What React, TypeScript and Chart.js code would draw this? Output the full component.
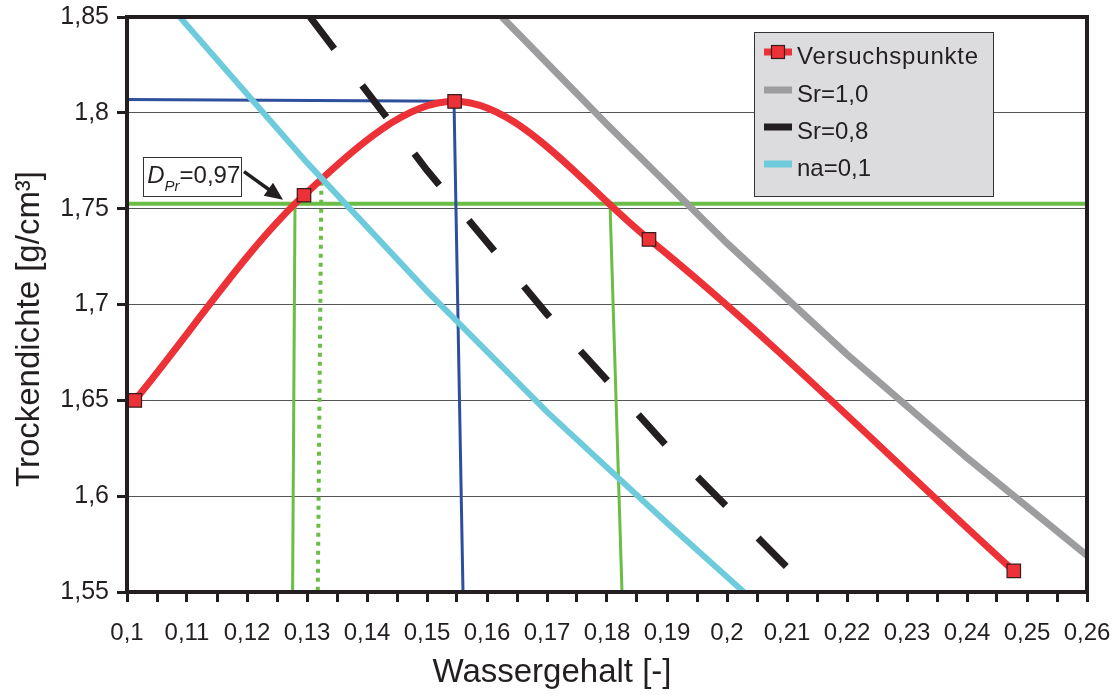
import React, { useEffect, useRef } from "react";
import { Chart, registerables } from "chart.js";

Chart.register(...registerables);

// ---- axis ranges ----
const xMin = 0.1;
const xMax = 0.26;
const xStep = 0.005;
const yMin = 1.55;
const yMax = 1.85;
const yStep = 0.05;

// ---- Versuchspunkte (test points) ----
const testW = [0.1013, 0.1295, 0.1546, 0.187, 0.2478];
const testRho = [1.65, 1.757, 1.806, 1.734, 1.561];

// ---- Sr = 1,0 ----
const sr10W = [0.1625, 0.18, 0.2, 0.22, 0.24, 0.26];
const sr10Rho = [1.85, 1.794, 1.732, 1.674, 1.62, 1.569];

// ---- Sr = 0,8 ----
const sr08W = [0.1305, 0.15, 0.17, 0.19, 0.2122];
const sr08Rho = [1.85, 1.77, 1.695, 1.626, 1.556];

// ---- na = 0,1 ----
const na01W = [0.1088, 0.13, 0.15, 0.17, 0.19, 0.2028];
const na01Rho = [1.85, 1.774, 1.707, 1.644, 1.586, 1.55];

// ---- Proctor optimum (blue) ----
const optW = [0.1, 0.1545, 0.156];
const optRho = [1.807, 1.806, 1.55];

// ---- D_Pr = 0,97 level (green) ----
const levelW = [0.1, 0.26];
const levelRho = [1.7526, 1.7526];
const leftW = [0.128, 0.1276];
const leftRho = [1.7526, 1.55];
const dotW = [0.1324, 0.1318];
const dotRho = [1.764, 1.55];
const rightW = [0.1805, 0.1825];
const rightRho = [1.7526, 1.55];

// ---- annotation anchor (data coords) ----
const boxLeftW = 0.1027;
const boxRightW = 0.119;
const boxTopRho = 1.7771;
const boxBottomRho = 1.7568;
const arrowFrom = [0.1195, 1.7693];
const arrowTo = [0.126, 1.7547];
const dprValue = "=0,97";

// ---- legend ----
const legendLabels = ["Versuchspunkte", "Sr=1,0", "Sr=0,8", "na=0,1"];

const RED = "#ec3237";
const GRAY = "#9d9d9f";
const BLACK = "#231f20";
const CYAN = "#6dcbdc";
const BLUE = "#2e4f9e";
const GREEN = "#6abd45";
const FONT = "'Liberation Sans', Arial, sans-serif";

const pts = (xs: number[], ys: number[]) => xs.map((x, i) => ({ x, y: ys[i] }));
const fmt = (v: number, d: number) => String(Math.round(v * Math.pow(10, d)) / Math.pow(10, d)).replace(".", ",");

const overlay = {
  id: "overlay",
  afterDraw(chart: any) {
    const ctx = chart.ctx as CanvasRenderingContext2D;
    const xs = chart.scales.x;
    const ys = chart.scales.y;
    const a = chart.chartArea;
    ctx.save();

    // border
    ctx.strokeStyle = BLACK;
    ctx.lineWidth = 4;
    ctx.strokeRect(a.left, a.top, a.right - a.left, a.bottom - a.top);

    // annotation box
    const bl = xs.getPixelForValue(boxLeftW);
    const br = xs.getPixelForValue(boxRightW);
    const bt = ys.getPixelForValue(boxTopRho);
    const bb = ys.getPixelForValue(boxBottomRho);
    ctx.fillStyle = "#ffffff";
    ctx.fillRect(bl, bt, br - bl, bb - bt);
    ctx.strokeStyle = "#333333";
    ctx.lineWidth = 1;
    ctx.strokeRect(Math.round(bl) + 0.5, Math.round(bt) + 0.5, Math.round(br - bl), Math.round(bb - bt));
    ctx.fillStyle = BLACK;
    ctx.textBaseline = "alphabetic";
    ctx.textAlign = "left";
    const base = bt + 26;
    let tx = bl + 4;
    ctx.font = `italic 24px ${FONT}`;
    ctx.fillText("D", tx, base);
    tx += ctx.measureText("D").width;
    ctx.font = `italic 15px ${FONT}`;
    ctx.fillText("Pr", tx, base + 8);
    tx += ctx.measureText("Pr").width;
    ctx.font = `24px ${FONT}`;
    ctx.fillText(dprValue, tx, base);

    // arrow
    const ax0 = xs.getPixelForValue(arrowFrom[0]);
    const ay0 = ys.getPixelForValue(arrowFrom[1]);
    const ax1 = xs.getPixelForValue(arrowTo[0]);
    const ay1 = ys.getPixelForValue(arrowTo[1]);
    const ang = Math.atan2(ay1 - ay0, ax1 - ax0);
    const hl = 18;
    const hw = 8;
    ctx.strokeStyle = BLACK;
    ctx.fillStyle = BLACK;
    ctx.lineWidth = 3.5;
    ctx.beginPath();
    ctx.moveTo(ax0, ay0);
    ctx.lineTo(ax1 - Math.cos(ang) * hl * 0.8, ay1 - Math.sin(ang) * hl * 0.8);
    ctx.stroke();
    ctx.beginPath();
    ctx.moveTo(ax1, ay1);
    ctx.lineTo(ax1 - Math.cos(ang) * hl - Math.sin(ang) * hw, ay1 - Math.sin(ang) * hl + Math.cos(ang) * hw);
    ctx.lineTo(ax1 - Math.cos(ang) * hl + Math.sin(ang) * hw, ay1 - Math.sin(ang) * hl - Math.cos(ang) * hw);
    ctx.closePath();
    ctx.fill();

    // legend
    const lx = 754;
    const ly = 32;
    const lw = 239;
    const lh = 164;
    ctx.fillStyle = "#dcdcde";
    ctx.fillRect(lx, ly, lw, lh);
    ctx.strokeStyle = "#333333";
    ctx.lineWidth = 1;
    ctx.strokeRect(lx + 0.5, ly + 0.5, lw, lh);
    const rows = [52, 90, 127, 164];
    const cols = [RED, GRAY, BLACK, CYAN];
    legendLabels.forEach((lab, i) => {
      const y = rows[i];
      ctx.fillStyle = cols[i];
      ctx.fillRect(764, y - 3.5, 28, 7);
      if (i === 0) {
        ctx.fillStyle = RED;
        ctx.fillRect(771.5, y - 6.5, 13, 13);
        ctx.strokeStyle = "#3a1a1a";
        ctx.lineWidth = 1.2;
        ctx.strokeRect(771.5, y - 6.5, 13, 13);
      }
      ctx.fillStyle = BLACK;
      ctx.font = `24px ${FONT}`;
      ctx.textBaseline = "middle";
      (ctx as any).letterSpacing = i === 0 ? "0.8px" : "0px";
      ctx.fillText(lab, 797, y + 5);
    });
    (ctx as any).letterSpacing = "0px";

    // axis titles
    ctx.fillStyle = BLACK;
    ctx.font = `33px ${FONT}`;
    ctx.textAlign = "center";
    ctx.textBaseline = "middle";
    ctx.fillText("Wassergehalt [-]", 552, 673);
    ctx.translate(30, 329);
    ctx.rotate(-Math.PI / 2);
    ctx.fillText("Trockendichte [g/cm³]", 0, 0);
    ctx.restore();
  },
};

export default function App() {
  const ref = useRef<HTMLCanvasElement | null>(null);

  useEffect(() => {
    document.body.style.margin = "0";
    const canvas = ref.current;
    if (!canvas) return;
    const lineDs = (data: any[], color: string, width: number, extra: any = {}) => ({
      data,
      borderColor: color,
      backgroundColor: color,
      borderWidth: width,
      pointRadius: 0,
      tension: 0,
      showLine: true,
      borderCapStyle: "butt",
      ...extra,
    });
    const chart = new Chart(canvas, {
      type: "scatter",
      data: {
        datasets: [
          lineDs(pts(sr10W, sr10Rho), GRAY, 7),
          lineDs(pts(sr08W, sr08Rho), BLACK, 7, { borderDash: [40, 46] }),
          lineDs(pts(na01W, na01Rho), CYAN, 6),
          {
            data: pts(testW, testRho),
            borderColor: RED,
            backgroundColor: RED,
            borderWidth: 7,
            showLine: true,
            tension: 0.4,
            cubicInterpolationMode: "monotone",
            pointStyle: "rect",
            pointRadius: 9.5,
            pointBackgroundColor: RED,
            pointBorderColor: "#3a1a1a",
            pointBorderWidth: 1.2,
          },
          lineDs(pts(optW, optRho), BLUE, 3),
          lineDs(pts(levelW, levelRho), GREEN, 4),
          lineDs(pts(leftW, leftRho), GREEN, 3),
          lineDs(pts(dotW, dotRho), GREEN, 4, { borderDash: [4, 5] }),
          lineDs(pts(rightW, rightRho), GREEN, 3),
        ],
      },
      options: {
        responsive: false,
        animation: false,
        devicePixelRatio: 1,
        layout: { padding: { left: 0, top: 17, right: 30, bottom: 0 } },
        plugins: { legend: { display: false }, tooltip: { enabled: false }, title: { display: false } },
        scales: {
          x: {
            type: "linear",
            min: xMin,
            max: xMax,
            afterFit: (s: any) => {
              s.height = 103;
              s.paddingLeft = 0;
              s.paddingRight = 0;
              s.paddingTop = 0;
              s.paddingBottom = 0;
            },
            afterBuildTicks: (s: any) => {
              const t = [];
              for (let i = 0; i <= Math.round((xMax - xMin) / xStep); i++) t.push({ value: xMin + i * xStep });
              s.ticks = t;
            },
            ticks: {
              autoSkip: false,
              maxRotation: 0,
              padding: 17,
              color: BLACK,
              font: { family: FONT, size: 24 },
              callback: (v: any) => {
                const m = Math.round(Number(v) * 1000);
                return m % 10 === 0 ? fmt(Number(v), 2) : "";
              },
            },
            grid: { drawOnChartArea: false, tickLength: 10, tickWidth: 3, tickColor: BLACK },
            border: { display: true, color: BLACK, width: 4 },
          },
          y: {
            type: "linear",
            min: yMin,
            max: yMax,
            afterFit: (s: any) => {
              s.width = 127;
              s.paddingLeft = 0;
              s.paddingRight = 0;
              s.paddingTop = 0;
              s.paddingBottom = 0;
            },
            afterBuildTicks: (s: any) => {
              const t = [];
              for (let i = 0; i <= Math.round((yMax - yMin) / yStep); i++) t.push({ value: yMin + i * yStep });
              s.ticks = t;
            },
            ticks: {
              padding: 8,
              color: BLACK,
              font: { family: FONT, size: 25 },
              callback: (v: any) => fmt(Number(v), 2),
            },
            grid: { drawOnChartArea: true, color: "#555555", lineWidth: 1, tickLength: 10, tickWidth: 3, tickColor: BLACK },
            border: { display: true, color: BLACK, width: 4 },
          },
        },
      },
      plugins: [overlay],
    } as any);
    return () => chart.destroy();
  }, []);

  return (
    <div style={{ width: 1117, height: 695 }}>
      <canvas ref={ref} width={1117} height={695} style={{ display: "block", width: 1117, height: 695 }} />
    </div>
  );
}
